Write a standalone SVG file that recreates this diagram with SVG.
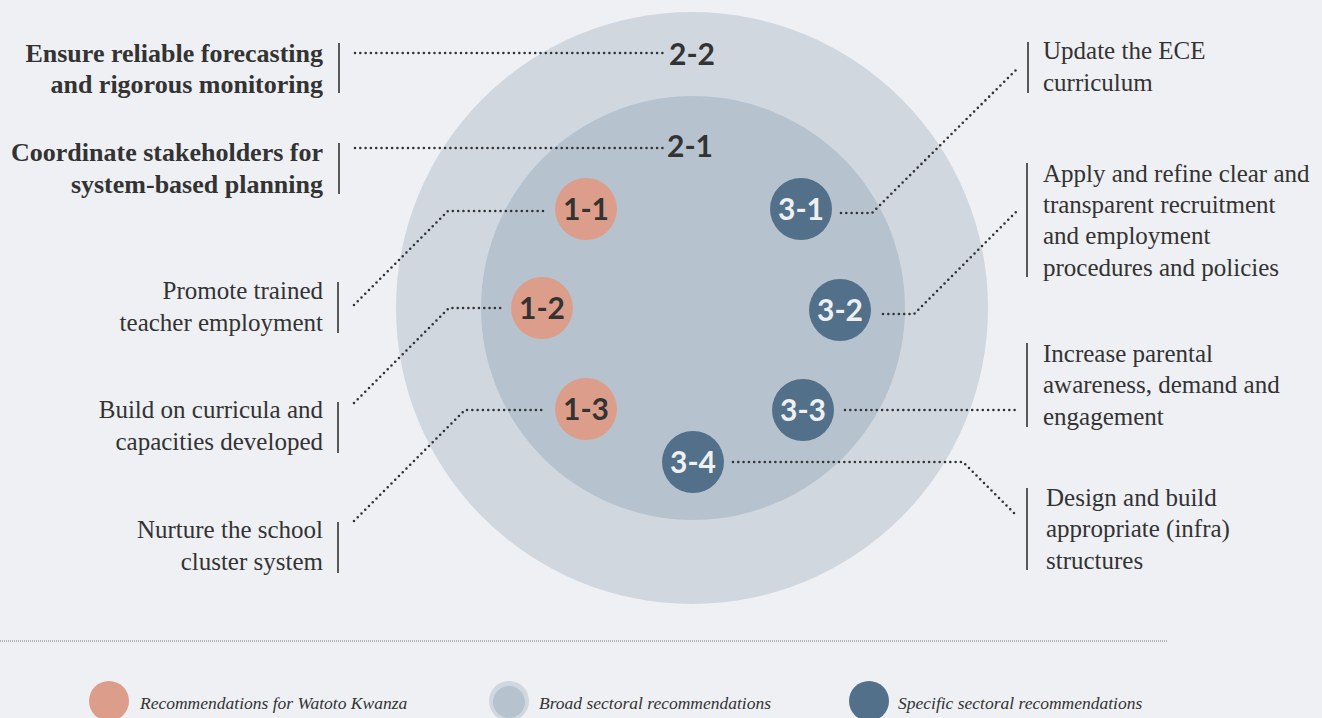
<svg xmlns="http://www.w3.org/2000/svg" width="1322" height="718" viewBox="0 0 1322 718">
<style>
.lbl{font-family:"Liberation Serif","DejaVu Serif",serif;font-size:25px;fill:#333}
.b{font-weight:bold;font-size:26px}
.r{text-anchor:end}
.num{font-family:Lato,"Open Sans",sans-serif;font-weight:bold;font-size:30px;text-anchor:middle}
.dk{fill:#333}
.lt{fill:#eef0f3}
.bar{stroke:#333;stroke-width:1.6}
.con{fill:none;stroke:#333;stroke-width:2.6;stroke-linecap:round;stroke-dasharray:0 5.3}
.leg{font-family:"Liberation Serif","DejaVu Serif",serif;font-style:italic;font-size:17.5px;fill:#333}
.salmon{fill:#dc9e8b}
.blue{fill:#527089}
</style>
<rect width="1322" height="718" fill="#eef0f4"/>
<g id="outer-circle"><circle cx="692" cy="308" r="296" fill="#d0d7df"/></g>
<g id="inner-circle"><circle cx="693" cy="308" r="212" fill="#b6c3cf"/></g>

<g id="connectors">
<path class="con" d="M355 53H665"/>
<path class="con" d="M355 148H665"/>
<path class="con" d="M354 305L448 211H546"/>
<path class="con" d="M354 403L449 308H504"/>
<path class="con" d="M354 521L465 410H546"/>
<path class="con" d="M841 213H872L1018 68"/>
<path class="con" d="M883 314H914L1018 210"/>
<path class="con" d="M845 410H1018"/>
<path class="con" d="M733 462H963L1017 516"/>
</g>

<g id="n2-2"><text class="num dk" x="692" y="65">2-2</text></g>
<g id="n2-1"><text class="num dk" x="690" y="157">2-1</text></g>

<g id="n1-1"><circle class="salmon" cx="586" cy="209" r="31"/><text class="num dk" x="586" y="220">1-1</text></g>
<g id="n1-2"><circle class="salmon" cx="542" cy="308" r="31"/><text class="num dk" x="542" y="319">1-2</text></g>
<g id="n1-3"><circle class="salmon" cx="586" cy="409" r="31"/><text class="num dk" x="586" y="420">1-3</text></g>
<g id="n3-1"><circle class="blue" cx="801" cy="209" r="31"/><text class="num lt" x="801" y="220">3-1</text></g>
<g id="n3-2"><circle class="blue" cx="840" cy="310" r="31"/><text class="num lt" x="840" y="321">3-2</text></g>
<g id="n3-3"><circle class="blue" cx="803" cy="410" r="31"/><text class="num lt" x="803" y="421">3-3</text></g>
<g id="n3-4"><circle class="blue" cx="693" cy="462" r="31"/><text class="num lt" x="693" y="473">3-4</text></g>

<g id="label-2-2"><line class="bar" x1="339" y1="43" x2="339" y2="93"/>
<text class="lbl b r"><tspan x="323" y="62">Ensure reliable forecasting</tspan><tspan x="323" y="93">and rigorous monitoring</tspan></text></g>
<g id="label-2-1"><line class="bar" x1="339" y1="143" x2="339" y2="194"/>
<text class="lbl b r"><tspan x="323" y="161">Coordinate stakeholders for</tspan><tspan x="323" y="193">system-based planning</tspan></text></g>
<g id="label-1-1"><line class="bar" x1="338" y1="282" x2="338" y2="333"/>
<text class="lbl r"><tspan x="323" y="299">Promote trained</tspan><tspan x="323" y="331">teacher employment</tspan></text></g>
<g id="label-1-2"><line class="bar" x1="338" y1="402" x2="338" y2="453"/>
<text class="lbl r"><tspan x="323" y="418">Build on curricula and</tspan><tspan x="323" y="450">capacities developed</tspan></text></g>
<g id="label-1-3"><line class="bar" x1="338" y1="522" x2="338" y2="573"/>
<text class="lbl r"><tspan x="323" y="538">Nurture the school</tspan><tspan x="323" y="570">cluster system</tspan></text></g>

<g id="label-3-1"><line class="bar" x1="1028" y1="42" x2="1028" y2="93"/>
<text class="lbl"><tspan x="1043" y="59">Update the ECE</tspan><tspan x="1043" y="91">curriculum</tspan></text></g>
<g id="label-3-2"><line class="bar" x1="1027" y1="163" x2="1027" y2="277"/>
<text class="lbl"><tspan x="1043" y="182">Apply and refine clear and</tspan><tspan x="1043" y="213">transparent recruitment</tspan><tspan x="1043" y="244">and employment</tspan><tspan x="1043" y="276">procedures and policies</tspan></text></g>
<g id="label-3-3"><line class="bar" x1="1027" y1="343" x2="1027" y2="427"/>
<text class="lbl"><tspan x="1043" y="362">Increase parental</tspan><tspan x="1043" y="393">awareness, demand and</tspan><tspan x="1043" y="425">engagement</tspan></text></g>
<g id="label-3-4"><line class="bar" x1="1027" y1="488" x2="1027" y2="570"/>
<text class="lbl"><tspan x="1046" y="506">Design and build</tspan><tspan x="1046" y="537">appropriate (infra)</tspan><tspan x="1046" y="569">structures</tspan></text></g>

<g id="legend">
<line x1="0" y1="641" x2="1168" y2="641" stroke="#777" stroke-width="1" stroke-dasharray="1 1"/>
<circle class="salmon" cx="109" cy="701" r="20"/>
<text class="leg" x="140" y="709">Recommendations for Watoto Kwanza</text>
<circle cx="509" cy="701" r="20" fill="#d0d7df"/>
<circle cx="509" cy="702" r="16" fill="#b6c3cf"/>
<text class="leg" x="539" y="709">Broad sectoral recommendations</text>
<circle class="blue" cx="869" cy="701" r="20"/>
<text class="leg" x="898" y="709">Specific sectoral recommendations</text>
</g>
</svg>
